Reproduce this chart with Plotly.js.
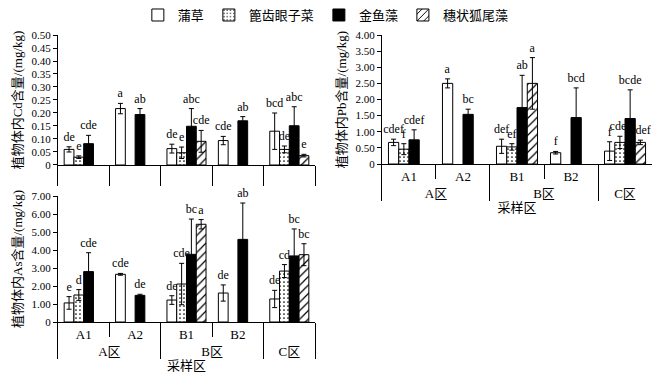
<!DOCTYPE html>
<html><head><meta charset="utf-8">
<script src="https://cdn.plot.ly/plotly-3.0.1.min.js"></script>
<style>html,body{margin:0;padding:0;background:#fff}#chart{width:665px;height:376px}</style>
</head><body><div id="chart"></div>
<script>
// ---- data ----
const sites = ["A1", "A2", "B1", "B2", "C"];
const siteLabels = ["A1", "A2", "B1", "B2", " "];
const zones = ["A区", "A区", "B区", "B区", "C区"];
const seriesNames = ["蒲草", "篦齿眼子菜", "金鱼藻", "穗状狐尾藻"];

// Cd (mg/kg)
const cdPuc = [0.060, 0.217, 0.063, 0.094, 0.130];
const cdPucErr = [0.010, 0.020, 0.017, 0.016, 0.070];
const cdPucLab = ["de", "a", "de", "cde", "bcd"];
const cdBic = [0.030, null, 0.047, null, 0.060];
const cdBicErr = [0.005, null, 0.022, null, 0.013];
const cdBicLab = ["e", "", "e", "", "de"];
const cdJin = [0.082, 0.194, 0.149, 0.170, 0.151];
const cdJinErr = [0.032, 0.023, 0.068, 0.016, 0.073];
const cdJinLab = ["cde", "ab", "abc", "ab", "abc"];
const cdSui = [null, null, 0.091, null, 0.036];
const cdSuiErr = [null, null, 0.042, null, 0.005];
const cdSuiLab = ["", "", "cde", "", "e"];

// Pb (mg/kg)
const pbPuc = [0.67, 2.50, 0.55, 0.35, 0.40];
const pbPucErr = [0.10, 0.14, 0.22, 0.04, 0.29];
const pbPucLab = ["cdef", "a", "def", "f", "f"];
const pbBic = [0.46, null, 0.53, null, 0.67];
const pbBicErr = [0.17, null, 0.10, null, 0.19];
const pbBicLab = ["f", "", "ef", "", "cdef"];
const pbJin = [0.75, 1.54, 1.75, 1.44, 1.41];
const pbJinErr = [0.31, 0.16, 1.00, 0.92, 0.89];
const pbJinLab = ["cdef", "bc", "ab", "bcd", "bcde"];
const pbSui = [null, null, 2.50, null, 0.67];
const pbSuiErr = [null, null, 0.80, null, 0.07];
const pbSuiLab = ["", "", "a", "", "cdef"];

// As (mg/kg)
const asPuc = [1.06, 2.65, 1.22, 1.61, 1.28];
const asPucErr = [0.35, 0.05, 0.24, 0.45, 0.48];
const asPucLab = ["e", "cde", "de", "de", "de"];
const asBic = [1.50, null, 2.11, null, 2.83];
const asBicErr = [0.30, null, 1.15, null, 0.36];
const asBicLab = ["d", "", "cde", "", "cd"];
const asJin = [2.80, 1.48, 3.76, 4.59, 3.67];
const asJinErr = [1.05, 0.06, 1.96, 2.02, 1.50];
const asJinLab = ["cde", "de", "bc", "ab", "bc"];
const asSui = [null, null, 5.43, null, 3.74];
const asSuiErr = [null, null, 0.26, null, 0.61];
const asSuiLab = ["", "", "a", "", "bc"];

// ---- styles ----
const FONT = "'Liberation Serif', 'Noto Sans CJK SC', serif";
const styles = [
  {color: "#ffffff", pattern: {shape: ""}},
  {color: "#ffffff", pattern: {shape: ".", fgcolor: "#000", bgcolor: "#fff", size: 4, solidity: 0.15}},
  {color: "#000000", pattern: {shape: ""}},
  {color: "#ffffff", pattern: {shape: "/", fgcolor: "#000", bgcolor: "#fff", size: 6, solidity: 0.2}}
];

const traces = [];
function addChart(xData, xa, ya, vals, errs, labs, showLegend) {
  vals.forEach((v, i) => {
    const og = xa + "_" + i;
    traces.push({
      type: "bar", x: xData, y: v, name: seriesNames[i],
      xaxis: xa, yaxis: ya, offsetgroup: og, legendgroup: "s" + i,
      showlegend: showLegend,
      marker: {color: styles[i].color, pattern: styles[i].pattern, line: {color: "#000", width: 1}},
      error_y: {type: "data", array: errs[i], color: "#000", thickness: 1, width: 2.5, visible: true},
      hoverinfo: "skip"
    });
    traces.push({
      type: "bar", x: xData, y: v.map((a, k) => a == null ? null : a + errs[i][k]),
      xaxis: xa, yaxis: ya, offsetgroup: og, showlegend: false,
      marker: {color: "rgba(0,0,0,0)", line: {width: 0}},
      text: labs[i], textposition: "outside", constraintext: "none", cliponaxis: false,
      textfont: {family: FONT, size: 12, color: "#000"},
      hoverinfo: "skip"
    });
  });
}
addChart(sites, "x", "y", [cdPuc, cdBic, cdJin, cdSui], [cdPucErr, cdBicErr, cdJinErr, cdSuiErr], [cdPucLab, cdBicLab, cdJinLab, cdSuiLab], true);
addChart([zones, siteLabels], "x2", "y2", [pbPuc, pbBic, pbJin, pbSui], [pbPucErr, pbBicErr, pbJinErr, pbSuiErr], [pbPucLab, pbBicLab, pbJinLab, pbSuiLab], false);
addChart([zones, siteLabels], "x3", "y3", [asPuc, asBic, asJin, asSui], [asPucErr, asBicErr, asJinErr, asSuiErr], [asPucLab, asBicLab, asJinLab, asSuiLab], false);

function yTicks(max, step, dec) {
  const vals = [], text = [];
  for (let k = 0; k * step <= max + 1e-9; k++) {
    const v = k * step; vals.push(v); text.push(k === 0 ? "0" : v.toFixed(dec));
  }
  return {vals, text};
}
const baseY = {
  showline: true, linecolor: "#000", linewidth: 1, ticks: "outside", ticklen: 4, tickcolor: "#000",
  showgrid: false, zeroline: false, tickfont: {family: FONT, size: 11, color: "#000"}, fixedrange: true
};
const tCd = yTicks(0.5, 0.05, 2), tPb = yTicks(4, 0.5, 2), tAs = yTicks(7, 1, 2);
const titleFont = {family: FONT, size: 13, color: "#000"};

const layout = {
  width: 665, height: 376, margin: {l: 0, r: 0, t: 0, b: 0},
  paper_bgcolor: "#fff", plot_bgcolor: "#fff",
  barmode: "group", bargap: 0.24, bargroupgap: 0,
  font: {family: FONT, size: 12, color: "#000"},
  showlegend: true,
  legend: {orientation: "h", x: 0.49, xanchor: "center", y: 0.96, yanchor: "middle",
    font: {family: FONT, size: 13, color: "#000"}, itemwidth: 30, tracegroupgap: 0,
    traceorder: "normal"},
  xaxis: {domain: [0.0872, 0.4737], anchor: "y", type: "category", tickson: "boundaries",
    ticks: "outside", ticklen: 20, tickcolor: "#000", showticklabels: false,
    showline: true, linecolor: "#000", showgrid: false, zeroline: false, fixedrange: true},
  yaxis: Object.assign({}, baseY, {domain: [0.5612, 0.9069], anchor: "x", range: [0, 0.5],
    tickvals: tCd.vals, ticktext: tCd.text,
    title: {text: "植物体内Cd含量/(mg/kg)", font: titleFont, standoff: 5}}),
  xaxis2: {domain: [0.5744, 0.9805], anchor: "y2", type: "multicategory",
    ticks: "outside", ticklen: 14, tickcolor: "#000", showdividers: true, dividercolor: "#000", dividerwidth: 1,
    showline: true, linecolor: "#000", showgrid: false, zeroline: false, fixedrange: true,
    tickfont: {family: FONT, size: 13, color: "#000"},
    title: {text: "采样区", font: titleFont, standoff: 3}},
  yaxis2: Object.assign({}, baseY, {domain: [0.5638, 0.9069], anchor: "x2", range: [0, 4],
    tickvals: tPb.vals, ticktext: tPb.text,
    title: {text: "植物体内Pb含量/(mg/kg)", font: titleFont, standoff: 5}}),
  xaxis3: {domain: [0.0872, 0.4737], anchor: "y3", type: "multicategory",
    ticks: "outside", ticklen: 14, tickcolor: "#000", showdividers: true, dividercolor: "#000", dividerwidth: 1,
    showline: true, linecolor: "#000", showgrid: false, zeroline: false, fixedrange: true,
    tickfont: {family: FONT, size: 13, color: "#000"},
    title: {text: "采样区", font: titleFont, standoff: 3}},
  yaxis3: Object.assign({}, baseY, {domain: [0.1436, 0.4787], anchor: "x3", range: [0, 7],
    tickvals: tAs.vals, ticktext: tAs.text,
    title: {text: "植物体内As含量/(mg/kg)", font: titleFont, standoff: 5}})
};

Plotly.newPlot("chart", traces, layout, {displayModeBar: false, staticPlot: true});
</script></body></html>
